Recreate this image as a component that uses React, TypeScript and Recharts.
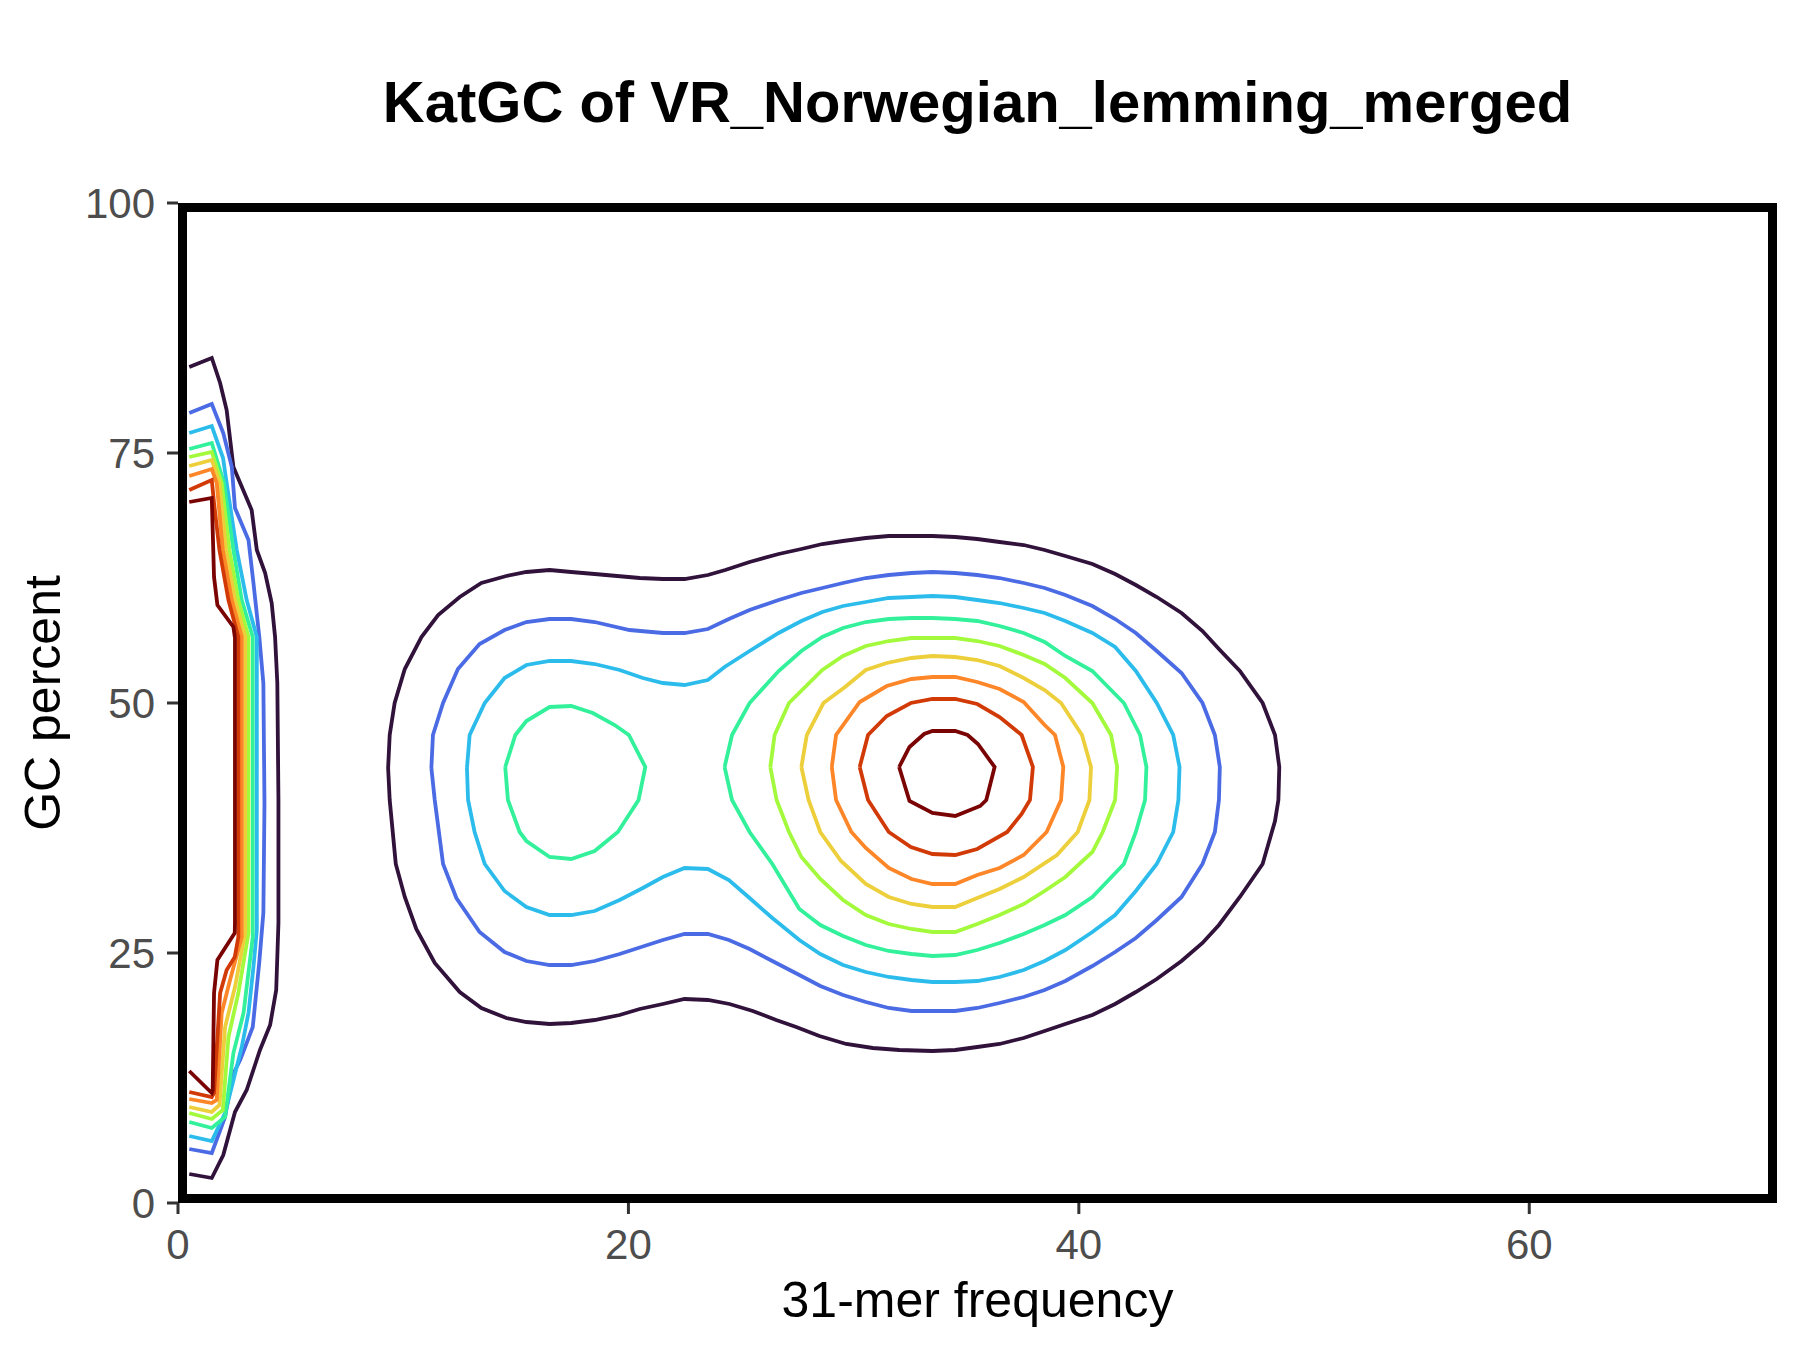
import React from 'react';
import { ComposedChart, Line, XAxis, YAxis, ReferenceArea, Label } from 'recharts';

const FONT = '"Liberation Sans", Arial, Helvetica, sans-serif';

const X_MAX = 71;
const X_TICKS = [0, 20, 40, 60];
const Y_TICKS = [0, 25, 50, 75, 100];

// contour colours, low density -> high density
const LEVEL_COLORS = [
  '#30123b',
  '#4a6be4',
  '#2cbcec',
  '#33f09b',
  '#a3f93c',
  '#eccf3b',
  '#fc8628',
  '#d13a07',
  '#7a0403',
];

// --- contours hugging the y axis (k-mers seen once or twice) ---
const strip1: [number, number][] = [
  [0.5, 83.6], [1.5, 84.5], [1.87, 82.0], [2.16, 79.3], [2.46, 73.6], [3.27, 69.3], [3.5, 65.3],
  [3.87, 63.0], [4.16, 60.0], [4.31, 56.6], [4.41, 52.0], [4.46, 40.3], [4.46, 28.0], [4.36, 21.3],
  [4.09, 17.8], [3.64, 15.3], [3.05, 11.3], [2.53, 9.1], [2.01, 4.8], [1.5, 2.5], [0.5, 2.9],
];
const strip2: [number, number][] = [
  [0.5, 79.0], [1.5, 79.9], [2.01, 77.0], [2.39, 73.6], [2.53, 69.5], [3.13, 66.3], [3.35, 62.0],
  [3.61, 56.6], [3.79, 52.0], [3.84, 40.0], [3.79, 29.0], [3.61, 24.1], [3.32, 17.6], [2.76, 14.3],
  [2.43, 12.8], [2.09, 8.6], [1.5, 5.0], [0.5, 5.4],
];
const strip3: [number, number][] = [
  [0.5, 77.0], [1.5, 77.7], [2.0, 74.5], [2.16, 72.0], [2.61, 65.3], [3.05, 60.3], [3.5, 56.6],
  [3.5, 27.3], [3.35, 23.6], [3.13, 19.0], [2.83, 15.6], [2.43, 12.0], [2.09, 9.0], [1.5, 6.2], [0.5, 6.7],
];
const strip4: [number, number][] = [
  [0.5, 75.4], [1.5, 76.0], [2.04, 72.0], [2.46, 65.3], [2.83, 60.3], [3.32, 56.6], [3.32, 26.6],
  [2.91, 19.0], [2.46, 15.0], [2.09, 8.6], [1.5, 7.5], [0.5, 8.1],
];
const strip5: [number, number][] = [
  [0.5, 74.6], [1.5, 75.1], [1.94, 72.0], [2.28, 65.3], [2.68, 60.3], [3.13, 56.6], [3.13, 27.0],
  [2.68, 21.0], [2.24, 16.6], [1.99, 9.3], [1.5, 8.4], [0.5, 9.0],
];
const strip6: [number, number][] = [
  [0.5, 73.7], [1.5, 74.3], [1.84, 72.0], [2.13, 65.3], [2.53, 60.3], [2.98, 56.6], [2.98, 27.0],
  [2.53, 21.6], [2.09, 17.6], [1.84, 9.8], [1.5, 9.1], [0.5, 9.6],
];
const strip7: [number, number][] = [
  [0.5, 72.7], [1.5, 73.4], [1.72, 72.0], [1.99, 65.3], [2.39, 60.3], [2.83, 56.6], [2.83, 26.6],
  [2.31, 22.3], [1.94, 19.0], [1.72, 10.3], [1.5, 10.0], [0.5, 10.4],
];
const strip8: [number, number][] = [
  [0.5, 71.3], [1.5, 72.3], [1.6, 70.0], [1.84, 65.3], [2.24, 60.3], [2.68, 56.6], [2.68, 26.6],
  [2.52, 24.6], [2.16, 23.3], [1.87, 21.0], [1.6, 11.0], [1.5, 10.6], [0.5, 11.1],
];
const strip9: [number, number][] = [
  [0.5, 70.1], [1.5, 70.5], [1.6, 62.6], [1.75, 59.8], [2.46, 57.6], [2.53, 56.5], [2.53, 28.0],
  [2.52, 27.0], [1.75, 24.3], [1.6, 21.0], [1.54, 11.3], [1.5, 11.0], [0.5, 13.2],
];

// --- main peak contours ---
const blob1: [number, number][] = [
  [9.33, 43.5], [9.4, 46.8], [9.62, 50.0], [10.07, 53.4], [10.81, 56.6], [11.55, 58.8], [12.51, 60.6],
  [13.47, 62.0], [14.58, 62.7], [15.47, 63.1], [16.5, 63.3], [17.46, 63.1], [18.5, 62.9], [20.5, 62.5],
  [21.53, 62.4], [22.49, 62.4], [23.53, 62.8], [24.3, 63.3], [25.38, 64.1], [26.67, 64.9], [27.68, 65.4],
  [28.61, 65.9], [29.53, 66.2], [30.54, 66.5], [31.56, 66.7], [32.57, 66.7], [33.5, 66.7], [34.51, 66.6],
  [35.49, 66.4], [36.48, 66.1], [37.55, 65.8], [38.48, 65.3], [39.4, 64.7], [40.6, 63.9], [41.61, 62.9],
  [42.53, 61.8], [43.46, 60.6], [44.56, 59.0], [45.49, 57.2], [46.22, 55.4], [47.15, 53.2], [48.16, 50.0],
  [48.71, 46.8], [48.9, 43.6], [48.86, 40.3], [48.71, 38.2], [48.16, 33.9], [47.15, 30.6], [46.22, 27.8],
  [45.49, 26.0], [44.56, 24.2], [43.46, 22.4], [42.53, 21.1], [41.61, 19.9], [40.6, 18.8], [39.4, 17.9],
  [38.48, 17.2], [37.55, 16.5], [36.48, 15.9], [35.49, 15.6], [34.51, 15.3], [33.5, 15.2], [32.03, 15.3],
  [30.85, 15.5], [29.67, 15.9], [28.48, 16.7], [27.45, 17.6], [26.56, 18.3], [25.52, 19.2], [24.49, 19.9],
  [23.53, 20.3], [22.49, 20.4], [21.53, 19.9], [20.5, 19.4], [19.61, 18.8], [18.5, 18.3], [17.46, 18.0],
  [16.5, 17.9], [15.47, 18.1], [14.58, 18.5], [13.47, 19.5], [12.51, 21.1], [11.4, 24.0], [10.58, 27.4],
  [10.07, 30.6], [9.67, 33.9], [9.4, 40.3], [9.33, 43.5],
];
const blob2: [number, number][] = [
  [11.25, 43.5], [11.32, 46.8], [11.77, 50.0], [12.43, 53.4], [13.39, 55.9], [14.5, 57.3], [15.47, 58.1],
  [16.5, 58.4], [17.46, 58.4], [18.5, 58.1], [20.05, 57.3], [21.53, 57.0], [22.49, 57.0], [23.53, 57.4],
  [24.46, 58.4], [25.38, 59.3], [26.67, 60.3], [27.68, 61.0], [28.61, 61.5], [29.53, 62.0], [30.54, 62.5],
  [31.56, 62.8], [32.57, 63.0], [33.5, 63.1], [34.51, 63.0], [35.49, 62.8], [36.48, 62.5], [37.55, 62.0],
  [38.48, 61.5], [39.4, 60.8], [40.6, 59.7], [41.61, 58.4], [42.53, 57.0], [43.46, 55.2], [44.56, 53.0],
  [45.49, 50.0], [46.04, 46.8], [46.26, 43.6], [46.22, 40.3], [46.04, 37.1], [45.49, 33.9], [44.56, 30.6],
  [43.46, 28.3], [42.53, 26.5], [41.61, 25.1], [40.6, 23.7], [39.4, 22.2], [38.48, 21.3], [37.55, 20.6],
  [36.48, 20.0], [35.49, 19.5], [34.51, 19.2], [33.5, 19.2], [32.57, 19.2], [31.56, 19.5], [30.54, 20.1],
  [29.53, 20.8], [28.52, 21.7], [27.59, 22.8], [26.39, 24.2], [25.38, 25.4], [24.46, 26.3], [23.53, 26.9],
  [22.49, 26.9], [21.53, 26.3], [19.61, 24.9], [18.5, 24.2], [17.46, 23.8], [16.5, 23.8], [15.47, 24.2],
  [14.5, 25.1], [13.39, 27.1], [12.36, 30.5], [11.77, 33.9], [11.4, 40.3], [11.25, 43.5],
];
const blob3: [number, number][] = [
  [12.83, 43.5], [12.95, 46.8], [13.62, 50.0], [14.5, 52.5], [15.47, 53.8], [16.5, 54.2], [17.46, 54.2],
  [18.5, 53.9], [19.61, 53.3], [20.64, 52.5], [21.53, 52.0], [22.49, 51.8], [23.53, 52.3], [24.27, 53.6],
  [25.38, 55.2], [26.67, 57.0], [27.68, 58.2], [28.61, 59.1], [29.53, 59.7], [30.54, 60.1], [31.56, 60.5],
  [32.57, 60.6], [33.5, 60.7], [34.51, 60.6], [35.49, 60.3], [36.48, 60.0], [37.55, 59.5], [38.48, 59.0],
  [39.4, 58.2], [40.6, 57.0], [41.61, 55.6], [42.53, 53.2], [43.46, 50.0], [44.19, 46.8], [44.47, 43.6],
  [44.42, 40.3], [44.19, 37.1], [43.46, 33.9], [42.53, 31.2], [41.61, 28.8], [40.6, 27.1], [39.4, 25.3],
  [38.48, 24.2], [37.55, 23.3], [36.48, 22.6], [35.49, 22.2], [34.51, 22.1], [33.5, 22.1], [32.57, 22.3],
  [31.56, 22.6], [30.54, 23.1], [29.53, 23.8], [28.52, 24.9], [27.59, 26.3], [26.39, 28.5], [25.38, 30.5],
  [24.46, 32.3], [23.53, 33.4], [22.49, 33.5], [21.53, 32.6], [20.64, 31.5], [19.61, 30.3], [18.5, 29.2],
  [17.46, 28.8], [16.5, 28.8], [15.47, 29.6], [14.5, 31.2], [13.62, 33.9], [13.17, 37.1], [12.88, 40.3],
  [12.83, 43.5],
];
const blob4a: [number, number][] = [
  [14.53, 43.6], [14.98, 46.8], [15.47, 48.2], [16.5, 49.6], [17.46, 49.7], [18.42, 49.0], [19.39, 47.8],
  [20.02, 46.8], [20.75, 43.6], [20.45, 40.3], [19.53, 37.1], [18.5, 35.2], [17.46, 34.4], [16.5, 34.6],
  [15.47, 36.2], [15.17, 37.1], [14.65, 40.3], [14.53, 43.6],
];
const blob4b: [number, number][] = [
  [24.27, 43.6], [24.6, 46.8], [25.38, 50.0], [26.67, 53.2], [27.68, 55.2], [28.61, 56.6], [29.53, 57.5],
  [30.54, 58.1], [31.56, 58.4], [32.57, 58.5], [33.5, 58.5], [34.51, 58.4], [35.49, 58.2], [36.48, 57.7],
  [37.55, 57.0], [38.48, 56.1], [39.4, 54.7], [40.6, 53.2], [42.0, 50.0], [42.72, 46.8], [43.0, 43.6],
  [42.94, 40.3], [42.53, 37.1], [42.0, 33.9], [40.6, 30.6], [39.4, 28.8], [38.48, 27.8], [37.55, 26.9],
  [36.48, 26.0], [35.49, 25.3], [34.51, 24.8], [33.5, 24.7], [32.57, 24.9], [31.56, 25.2], [30.54, 25.8],
  [29.53, 26.7], [28.52, 27.8], [27.59, 29.4], [26.39, 33.9], [25.38, 37.1], [24.6, 40.3], [24.27, 43.6],
];
const blob5: [number, number][] = [
  [26.3, 43.6], [26.49, 46.8], [27.13, 50.0], [28.61, 53.3], [29.53, 54.7], [30.54, 55.7], [31.56, 56.2],
  [32.57, 56.5], [33.5, 56.5], [34.51, 56.5], [35.49, 56.2], [36.48, 55.7], [37.55, 54.8], [38.48, 53.9],
  [39.4, 52.5], [40.6, 50.0], [41.43, 46.8], [41.7, 43.6], [41.61, 40.3], [41.06, 37.1], [40.6, 35.1],
  [39.4, 32.6], [38.48, 31.2], [37.55, 29.9], [36.48, 28.8], [35.49, 27.9], [34.51, 27.1], [33.5, 27.1],
  [32.57, 27.4], [31.56, 27.9], [30.54, 28.8], [29.53, 30.3], [28.52, 32.4], [27.68, 34.6], [27.13, 37.1],
  [26.58, 40.3], [26.3, 43.6],
];
const blob6: [number, number][] = [
  [27.68, 43.6], [27.92, 46.8], [28.66, 50.0], [29.62, 51.6], [30.54, 53.3], [31.47, 54.0], [32.57, 54.5],
  [33.5, 54.7], [34.51, 54.6], [35.49, 54.3], [36.48, 53.7], [37.55, 52.5], [38.48, 51.3], [39.21, 50.0],
  [40.14, 46.8], [40.54, 43.6], [40.47, 40.3], [39.95, 37.1], [39.03, 34.8], [37.55, 32.6], [36.48, 31.4],
  [35.49, 30.5], [34.51, 29.6], [33.5, 29.6], [32.57, 29.9], [31.56, 30.6], [30.54, 31.9], [29.44, 34.2],
  [28.52, 37.1], [28.0, 40.3], [27.68, 43.6],
];
const blob7: [number, number][] = [
  [29.03, 43.6], [29.22, 46.8], [30.27, 50.1], [31.47, 51.7], [32.57, 52.4], [33.5, 52.6], [34.51, 52.6],
  [35.49, 52.1], [36.48, 51.4], [37.55, 50.1], [38.48, 47.8], [38.94, 46.8], [39.31, 43.6], [39.21, 40.3],
  [38.57, 37.1], [37.55, 34.8], [36.48, 33.5], [35.49, 32.8], [34.51, 31.9], [33.5, 31.9], [32.57, 32.4],
  [31.56, 33.5], [30.54, 35.5], [29.9, 37.1], [29.22, 40.3], [29.03, 43.6],
];
const blob8: [number, number][] = [
  [30.27, 43.6], [30.64, 46.8], [31.47, 48.7], [32.54, 50.0], [33.5, 50.4], [34.51, 50.4], [35.49, 49.9],
  [36.48, 48.6], [37.46, 46.8], [37.96, 43.6], [37.83, 40.3], [37.46, 38.9], [36.82, 37.1], [35.49, 35.4],
  [34.51, 34.8], [33.5, 34.9], [32.54, 35.6], [31.56, 37.1], [30.64, 40.3], [30.27, 43.6],
];
const blob9: [number, number][] = [
  [32.02, 43.6], [32.48, 45.6], [33.13, 46.9], [33.5, 47.2], [34.51, 47.2], [35.06, 46.8], [35.52, 45.9],
  [36.26, 43.6], [35.89, 40.3], [35.62, 39.7], [34.51, 38.7], [33.5, 39.0], [32.48, 40.2], [32.02, 43.6],
];

const CONTOURS: { id: string; level: number; pts: [number, number][] }[] = [
  { id: 'strip1', level: 0, pts: strip1 },
  { id: 'strip2', level: 1, pts: strip2 },
  { id: 'strip3', level: 2, pts: strip3 },
  { id: 'strip4', level: 3, pts: strip4 },
  { id: 'strip5', level: 4, pts: strip5 },
  { id: 'strip6', level: 5, pts: strip6 },
  { id: 'strip7', level: 6, pts: strip7 },
  { id: 'strip8', level: 7, pts: strip8 },
  { id: 'strip9', level: 8, pts: strip9 },
  { id: 'blob1', level: 0, pts: blob1 },
  { id: 'blob2', level: 1, pts: blob2 },
  { id: 'blob3', level: 2, pts: blob3 },
  { id: 'blob4a', level: 3, pts: blob4a },
  { id: 'blob4b', level: 3, pts: blob4b },
  { id: 'blob5', level: 4, pts: blob5 },
  { id: 'blob6', level: 5, pts: blob6 },
  { id: 'blob7', level: 6, pts: blob7 },
  { id: 'blob8', level: 7, pts: blob8 },
  { id: 'blob9', level: 8, pts: blob9 },
];

const tickStyle = { fill: '#4d4d4d', fontSize: 42, fontFamily: FONT };
const tickLineStyle = { stroke: '#333333', strokeWidth: 3 };

function XTitle(props: any) {
  const { viewBox } = props;
  return (
    <text
      x={viewBox.x + viewBox.width / 2}
      y={1317}
      textAnchor="middle"
      fontSize={50}
      fontFamily={FONT}
      fill="#000"
    >
      31-mer frequency
    </text>
  );
}

function YTitle(props: any) {
  const { viewBox } = props;
  const cx = 60;
  const cy = viewBox.y + viewBox.height / 2;
  return (
    <text
      x={cx}
      y={cy}
      transform={`rotate(-90 ${cx} ${cy})`}
      textAnchor="middle"
      fontSize={50}
      fontFamily={FONT}
      fill="#000"
    >
      GC percent
    </text>
  );
}

export default function App() {
  return (
    <div
      style={{
        position: 'absolute',
        left: 0,
        top: 0,
        width: 1800,
        height: 1350,
        background: '#fff',
        fontFamily: FONT,
      }}
    >
      <div
        style={{
          position: 'absolute',
          left: 178,
          width: 1599,
          top: 72,
          textAlign: 'center',
          fontSize: 58,
          lineHeight: '60px',
          fontWeight: 'bold',
          color: '#000',
        }}
      >
        KatGC of VR_Norwegian_lemming_merged
      </div>
      <ComposedChart
        width={1800}
        height={1350}
        margin={{ top: 203, right: 23, bottom: 0, left: 0 }}
        style={{ position: 'absolute', left: 0, top: 0 }}
      >
        <XAxis
          dataKey="x"
          type="number"
          domain={[0, X_MAX]}
          ticks={X_TICKS}
          allowDataOverflow
          height={147}
          axisLine={false}
          tickSize={11}
          tickMargin={15}
          tick={tickStyle}
          tickLine={tickLineStyle}
        >
          <Label content={XTitle} />
        </XAxis>
        <YAxis
          dataKey="y"
          type="number"
          domain={[0, 100]}
          ticks={Y_TICKS}
          allowDataOverflow
          width={178}
          axisLine={false}
          tickSize={11}
          tickMargin={12}
          tick={tickStyle}
          tickLine={tickLineStyle}
        >
          <Label content={YTitle} />
        </YAxis>
        {CONTOURS.map((c) => (
          <Line
            key={c.id}
            data={c.pts.map(([x, y]) => ({ x, y }))}
            dataKey="y"
            type="linear"
            stroke={LEVEL_COLORS[c.level]}
            strokeWidth={3.8}
            strokeLinejoin="miter"
            dot={false}
            activeDot={false}
            isAnimationActive={false}
          />
        ))}
        <ReferenceArea
          x1={0}
          x2={X_MAX}
          y1={0}
          y2={100}
          fill="none"
          stroke="#000"
          strokeWidth={18}
          ifOverflow="hidden"
        />
      </ComposedChart>
    </div>
  );
}
